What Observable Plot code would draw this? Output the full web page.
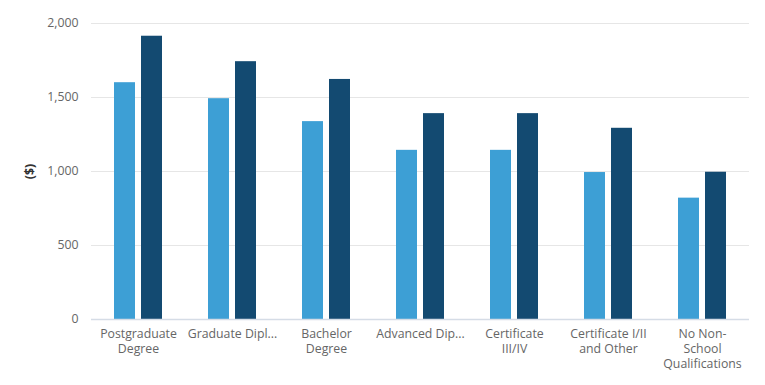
<!DOCTYPE html>
<html>
<head>
<meta charset="utf-8">
<script src="https://cdn.jsdelivr.net/npm/d3@7"></script>
<script src="https://cdn.jsdelivr.net/npm/@observablehq/plot@0.6"></script>
<style>
  html, body { margin: 0; padding: 0; background: #fff; }
  #chart { width: 765px; height: 385px; }
</style>
</head>
<body>
<div id="chart"></div>
<script>
const categories = [
  "Postgraduate Degree",
  "Graduate Diploma and Graduate Certificate",
  "Bachelor Degree",
  "Advanced Diploma and Diploma",
  "Certificate III/IV",
  "Certificate I/II and Other",
  "No Non-School Qualifications"
];
const tickLabels = [
  "Postgraduate\nDegree",
  "Graduate Dipl...",
  "Bachelor\nDegree",
  "Advanced Dip...",
  "Certificate\nIII/IV",
  "Certificate I/II\nand Other",
  "No Non-\nSchool\nQualifications"
];
const seriesNames = ["Females", "Males"];
const femalesValues = [1600, 1492, 1337, 1143, 1143, 993, 820];
const malesValues = [1914, 1742, 1622, 1391, 1391, 1292, 995];
const yTicks = [0, 500, 1000, 1500, 2000];
const seriesColors = ["#3d9fd5", "#134a71"];

const rows = [];
categories.forEach((c, i) => {
  rows.push({category: c, series: seriesNames[0], value: femalesValues[i]});
  rows.push({category: c, series: seriesNames[1], value: malesValues[i]});
});
const labelOf = new Map(categories.map((c, i) => [c, tickLabels[i]]));

const chart = Plot.plot({
  width: 765,
  height: 385,
  marginLeft: 90,
  marginRight: 15,
  marginTop: 23,
  marginBottom: 66,
  style: {fontFamily: "'Open Sans', sans-serif", fontSize: "12.3px", background: "#fff"},
  fx: {domain: categories, padding: 0, label: null},
  x: {domain: seriesNames, paddingInner: 0.214, paddingOuter: 0.79, axis: null},
  y: {domain: [0, 2000], label: null},
  color: {domain: seriesNames, range: seriesColors},
  marks: [
    Plot.gridY(yTicks, {stroke: "#e6e6e6", strokeOpacity: 1}),
    Plot.axisY(yTicks, {tickSize: 0, tickPadding: 13, tickFormat: d3.format(","), fill: "#666",
      label: "($)", labelAnchor: "center", labelOffset: 66, labelArrow: "none"}),
    Plot.axisFx({anchor: "bottom", tickSize: 0, tickPadding: 8, tickFormat: c => labelOf.get(c), fill: "#666", lineHeight: 1.22, label: null, textOverflow: null, lineWidth: Infinity}),
    Plot.barY(rows, {fx: "category", x: "series", y: "value", fill: "series"}),
    Plot.ruleY([0], {stroke: "#d5dce6", strokeWidth: 1.5})
  ]
});
d3.select(chart).selectAll("text").filter(function() { return this.textContent.trim() === "($)"; })
  .attr("fill", "#333").attr("font-weight", "bold");
document.getElementById("chart").appendChild(chart);
</script>
</body>
</html>
